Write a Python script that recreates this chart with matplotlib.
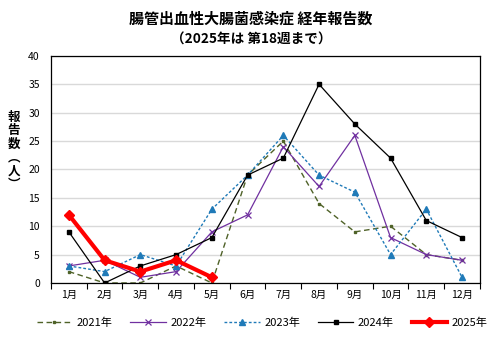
import matplotlib
matplotlib.use("Agg")
import matplotlib.pyplot as plt
from matplotlib.ticker import MultipleLocator, FixedLocator

plt.rcParams['font.family'] = ['Noto Sans CJK JP', 'DejaVu Sans']

months = ["1月", "2月", "3月", "4月", "5月", "6月", "7月", "8月", "9月", "10月", "11月", "12月"]
y2021 = [2, 0, 0, 3, 0, 19, 25, 14, 9, 10, 5, 4]
y2022 = [3, 4, 1, 2, 9, 12, 24, 17, 26, 8, 5, 4]
y2023 = [3, 2, 5, 3, 13, 19, 26, 19, 16, 5, 13, 1]
y2024 = [9, 0, 3, 5, 8, 19, 22, 35, 28, 22, 11, 8]
y2025 = [12, 4, 2, 4, 1]

fig = plt.figure(figsize=(5.02, 3.43), dpi=100)
ax = fig.add_axes([0.1016, 0.175, 0.8544, 0.662])

x = list(range(12))
ax.plot(x, y2021, color="#4f6228", ls=(0, (4, 2.5)), lw=1.0, marker="s", ms=2,
        label="2021年")
ax.plot(x, y2022, color="#7030a0", ls="-", lw=0.9, marker="x", ms=4.5, mew=0.9,
        label="2022年")
ax.plot(x, y2023, color="#1f7ab8", ls=(0, (2, 1.5)), lw=1.0, marker="^", ms=4,
        label="2023年")
ax.plot(x, y2024, color="black", ls="-", lw=0.9, marker="s", ms=3,
        label="2024年")
ax.plot(x[:len(y2025)], y2025, color="#ff0000", ls="-", lw=3, marker="D", ms=5,
        label="2025年")

ax.set_xlim(-0.5, 11.5)
ax.set_ylim(0, 40)
ax.yaxis.set_major_locator(MultipleLocator(5))
ax.grid(axis="y", color="#d9d9d9", lw=1)
ax.set_axisbelow(True)

ax.set_xticks(x)
ax.set_xticklabels(months, fontsize=7.5)
ax.tick_params(axis="x", length=0, pad=5)
ax.xaxis.set_minor_locator(FixedLocator([i - 0.5 for i in range(13)]))
ax.tick_params(axis="x", which="minor", length=4, direction="out", width=0.8)
ax.tick_params(axis="y", length=0, labelsize=7.5, pad=8)

for s in ax.spines.values():
    s.set_color("black")
    s.set_linewidth(0.9)

fig.text(0.5, 0.945, "腸管出血性大腸菌感染症 経年報告数", ha="center", va="center",
         fontsize=10.8, fontweight="bold")
fig.text(0.5, 0.885, "（2025年は 第18週まで）", ha="center", va="center",
         fontsize=9.8, fontweight="bold")

fig.text(0.028, 0.56, "報\n告\n数\n︵\n人\n︶", ha="center", va="center",
         fontsize=9, fontweight="bold", linespacing=1.05)

fig.legend(loc="center", bbox_to_anchor=(0.522, 0.058), ncol=5, frameon=False,
           fontsize=8, handlelength=3.2, handletextpad=0.4, columnspacing=1.6)

fig.savefig("out.png", dpi=100)
